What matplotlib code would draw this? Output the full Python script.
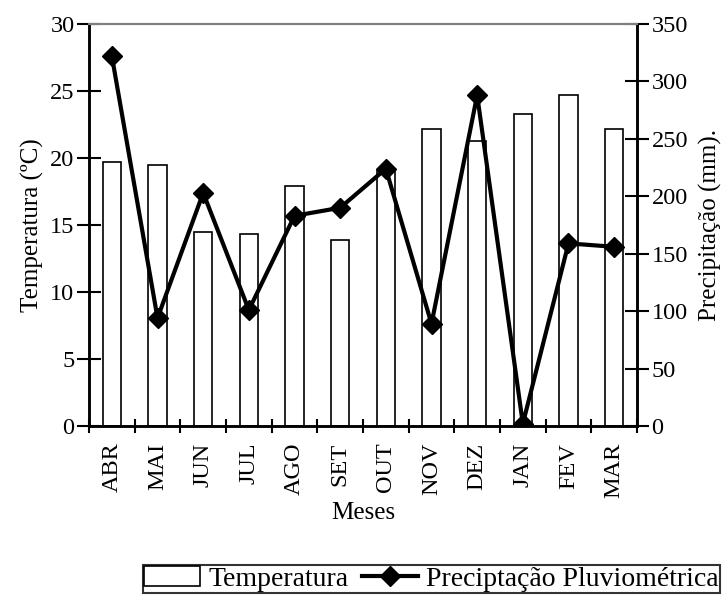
import matplotlib
matplotlib.use('Agg')
import matplotlib.pyplot as plt
import numpy as np

plt.rcParams['font.family'] = ['Liberation Serif', 'DejaVu Serif']

meses = ['ABR', 'MAI', 'JUN', 'JUL', 'AGO', 'SET', 'OUT', 'NOV', 'DEZ', 'JAN', 'FEV', 'MAR']
temperatura = [19.7, 19.5, 14.5, 14.3, 17.9, 13.9, 19.0, 22.2, 21.3, 23.3, 24.7, 22.2]
precipitacao = [322, 94, 203, 101, 183, 190, 224, 89, 288, 2, 159, 156]

fig = plt.figure(figsize=(7.25, 5.95), dpi=100)
ax = fig.add_axes([0.1228, 0.284, 0.7558, 0.6757])
ax2 = ax.twinx()

x = np.arange(len(meses))
barras = ax.bar(x, temperatura, width=0.4, color='white', edgecolor='black',
                linewidth=1.2, label='Temperatura', zorder=2)
linha, = ax2.plot(x, precipitacao, color='black', linewidth=3, marker='D',
                  markersize=10, label='Preciptação Pluviométrica', zorder=3)

ax.set_xlim(-0.5, len(meses) - 0.5)
ax.set_ylim(0, 30)
ax2.set_ylim(0, 350)
ax.set_yticks(range(0, 31, 5))
ax2.set_yticks(range(0, 351, 50))

ax.set_xticks(x)
ax.set_xticklabels(meses, rotation=90, fontsize=17.5)
ax.set_xticks(np.arange(-0.5, len(meses)), minor=True)
ax.tick_params(axis='x', which='major', length=0, pad=12)
ax.tick_params(axis='x', which='minor', direction='inout', length=10, width=1.5)
ax.tick_params(axis='y', direction='inout', length=17, width=1.5, labelsize=17.5, pad=2)
ax2.tick_params(axis='y', direction='inout', length=17, width=1.5, labelsize=17.5, pad=2)

for a in (ax, ax2):
    a.spines['top'].set_color('gray')
    a.spines['top'].set_linewidth(1.5)
    a.spines['left'].set_linewidth(1.8)
    a.spines['right'].set_linewidth(1.8)
    a.spines['bottom'].set_linewidth(1.8)

ax.set_xlabel('Meses', fontsize=18, labelpad=3)
ax.set_ylabel('Temperatura (ºC)', fontsize=18, labelpad=4)
ax2.set_ylabel('Precipitação (mm).', fontsize=18, labelpad=8)

leg = fig.legend([barras, linha], ['Temperatura', 'Preciptação Pluviométrica'],
                 loc='lower center', bbox_to_anchor=(0.595, -0.006), ncol=2,
                 fontsize=20, frameon=True, fancybox=False, edgecolor='black',
                 handlelength=2.0, handletextpad=0.3, columnspacing=0.5,
                 borderpad=0.05, borderaxespad=0.2)
leg.get_frame().set_linewidth(1.5)

fig.savefig('out.png', dpi=100)
